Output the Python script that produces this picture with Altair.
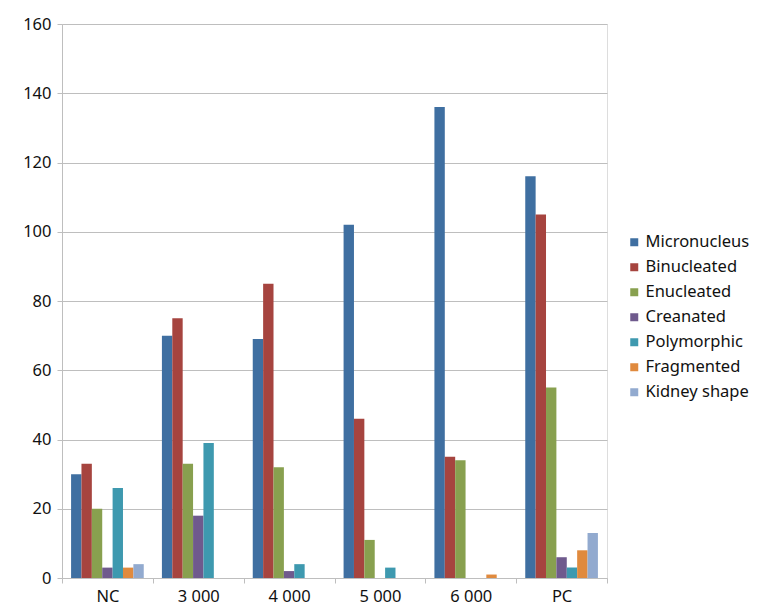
import altair as alt
import pandas as pd

categories = ["NC", "3 000", "4 000", "5 000", "6 000", "PC"]
series = ["Micronucleus", "Binucleated", "Enucleated", "Creanated",
          "Polymorphic", "Fragmented", "Kidney shape"]
colors = ["#3F6FA1", "#A6443F", "#88A04F", "#6F5A8D", "#3E99AF", "#E08A3E", "#92AACF"]

micronucleus = [30, 70, 69, 102, 136, 116]
binucleated = [33, 75, 85, 46, 35, 105]
enucleated = [20, 33, 32, 11, 34, 55]
creanated = [3, 18, 2, 0, 0, 6]
polymorphic = [26, 39, 4, 3, 0, 3]
fragmented = [3, 0, 0, 0, 1, 8]
kidney_shape = [4, 0, 0, 0, 0, 13]

values = [micronucleus, binucleated, enucleated, creanated,
          polymorphic, fragmented, kidney_shape]

rows = []
for s, vals in zip(series, values):
    for c, v in zip(categories, vals):
        rows.append({"category": c, "series": s, "value": v})
df = pd.DataFrame(rows)

font = "Noto Sans"

chart = alt.Chart(df).mark_bar().encode(
    x=alt.X("category:N", sort=categories, title=None,
            scale=alt.Scale(paddingInner=0, paddingOuter=0),
            axis=alt.Axis(tickBand="extent", labelAngle=0, labelFontSize=16.5,
                          labelFont=font, labelColor="#111111", labelPadding=5,
                          tickSize=5, tickColor="#BEBEBE", domainColor="#BEBEBE",
                          grid=False)),
    xOffset=alt.XOffset("series:N", sort=series,
                        scale=alt.Scale(paddingInner=0, paddingOuter=0.875)),
    y=alt.Y("value:Q", title=None,
            scale=alt.Scale(domain=[0, 160]),
            axis=alt.Axis(values=list(range(0, 161, 20)), labelFontSize=16.5,
                          labelFont=font, labelColor="#111111", labelPadding=6,
                          tickSize=5, tickColor="#BEBEBE", domainColor="#BEBEBE",
                          gridColor="#BEBEBE", grid=True)),
    color=alt.Color("series:N", sort=series,
                    scale=alt.Scale(domain=series, range=colors),
                    legend=alt.Legend(title=None, orient="none", legendX=564,
                                      legendY=210, symbolType="square",
                                      symbolSize=64, symbolStrokeWidth=0,
                                      labelFontSize=16.5, labelFont=font,
                                      labelColor="#111111", rowPadding=8,
                                      labelOffset=3)),
).properties(
    width=545, height=554,
    autosize=alt.AutoSizeParams(type="none"),
    padding={"left": 54, "top": 16, "right": 150, "bottom": 30},
).configure_view(stroke=None).configure(background="white")

chart.save("out.html", embed_options={"renderer": "svg", "actions": False})
